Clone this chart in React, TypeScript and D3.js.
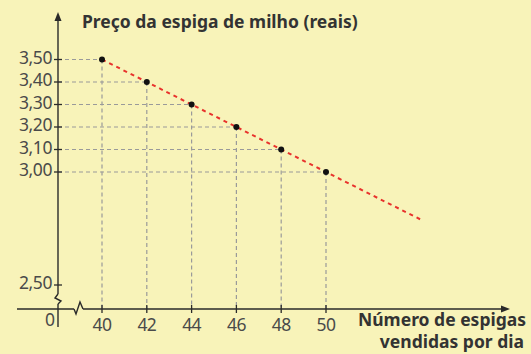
import * as d3 from "d3";

const quantities = [40, 42, 44, 46, 48, 50];
const prices = [3.5, 3.4, 3.3, 3.2, 3.1, 3.0];
const yTicks = [2.5, 3.0, 3.1, 3.2, 3.3, 3.4, 3.5];
const trendEnd = [54.2, 2.79];

const W = 531;
const H = 354;

const x = d3.scaleLinear().domain([40, 50]).range([102, 326]);
const y = d3.scaleLinear().domain([3.0, 3.5]).range([172, 59.5]);

const axisX = 58;
const axisY = 309;
const fmt = (v: number) => v.toFixed(2).replace(".", ",");
const font = "'Noto Sans', 'Open Sans', sans-serif";

const App = () => {
  const line = d3
    .line<number[]>()
    .x((d) => x(d[0]))
    .y((d) => y(d[1]));
  const trend = [[quantities[0], prices[0]], trendEnd];

  return (
    <svg
      width={W}
      height={H}
      style={{ position: "absolute", left: 0, top: 0, background: "#f8f3b9" }}
      fontFamily={font}
    >
      {/* guide lines */}
      {quantities.map((q, i) => (
        <g key={q} stroke="#9a9a9a" strokeWidth={1.2} strokeDasharray="4,3" fill="none">
          <line x1={axisX} x2={x(q)} y1={y(prices[i])} y2={y(prices[i])} />
          <line x1={x(q)} x2={x(q)} y1={y(prices[i])} y2={axisY} />
        </g>
      ))}

      {/* trend */}
      <path
        d={line(trend as number[][]) ?? ""}
        stroke="#e8322c"
        strokeWidth={2}
        strokeDasharray="4,4"
        fill="none"
      />

      {/* axes */}
      <g stroke="#2a2a2a" strokeWidth={1.4} fill="none">
        <line x1={axisX} x2={axisX} y1={18} y2={294} />
        <polyline points={`${axisX},294 ${axisX - 3},298 ${axisX + 3},301 ${axisX},304`} />
        <line x1={axisX} x2={axisX} y1={304} y2={327} />
        <line x1={17} x2={74} y1={axisY} y2={axisY} />
        <polyline points={`74,${axisY} 76,${axisY + 5} 80,${axisY - 7} 83,${axisY}`} />
        <line x1={83} x2={505} y1={axisY} y2={axisY} />
      </g>
      <path d={`M${axisX},12 L${axisX - 3.5},21 L${axisX + 3.5},21 Z`} fill="#2a2a2a" />
      <path d={`M510,${axisY} L501,${axisY - 3.5} L501,${axisY + 3.5} Z`} fill="#2a2a2a" />

      {/* y ticks */}
      {yTicks.map((t) => {
        const yy = t === 2.5 ? 285 : y(t);
        return (
          <g key={t}>
            <line x1={axisX - 4} x2={axisX + 4} y1={yy} y2={yy} stroke="#2a2a2a" strokeWidth={1.3} />
            <text
              x={axisX - 6}
              y={yy + 4}
              textAnchor="end"
              fontSize={17.5}
              fill="#4a4a4a"
              letterSpacing={-0.4}
            >
              {fmt(t)}
            </text>
          </g>
        );
      })}

      {/* x ticks */}
      {quantities.map((q) => (
        <g key={q}>
          <line x1={x(q)} x2={x(q)} y1={axisY - 4} y2={axisY + 4} stroke="#2a2a2a" strokeWidth={1.3} />
          <text x={x(q)} y={axisY + 22} textAnchor="middle" fontSize={17.5} fill="#4a4a4a" letterSpacing={-0.6}>
            {q}
          </text>
        </g>
      ))}
      <text x={50} y={axisY + 17} textAnchor="middle" fontSize={17.5} fill="#4a4a4a">
        0
      </text>

      {/* points */}
      {quantities.map((q, i) => (
        <circle key={q} cx={x(q)} cy={y(prices[i])} r={3} fill="#111" />
      ))}

      {/* labels */}
      <text x={82} y={28} fontSize={17.5} fontWeight="bold" fill="#333" letterSpacing={0}>
        Preço da espiga de milho (reais)
      </text>
      <text x={526} y={326} textAnchor="end" fontSize={17.5} fontWeight="bold" fill="#333" letterSpacing={0}>
        Número de espigas
      </text>
      <text x={524} y={348} textAnchor="end" fontSize={17.5} fontWeight="bold" fill="#333" letterSpacing={0}>
        vendidas por dia
      </text>
    </svg>
  );
};

export default App;
